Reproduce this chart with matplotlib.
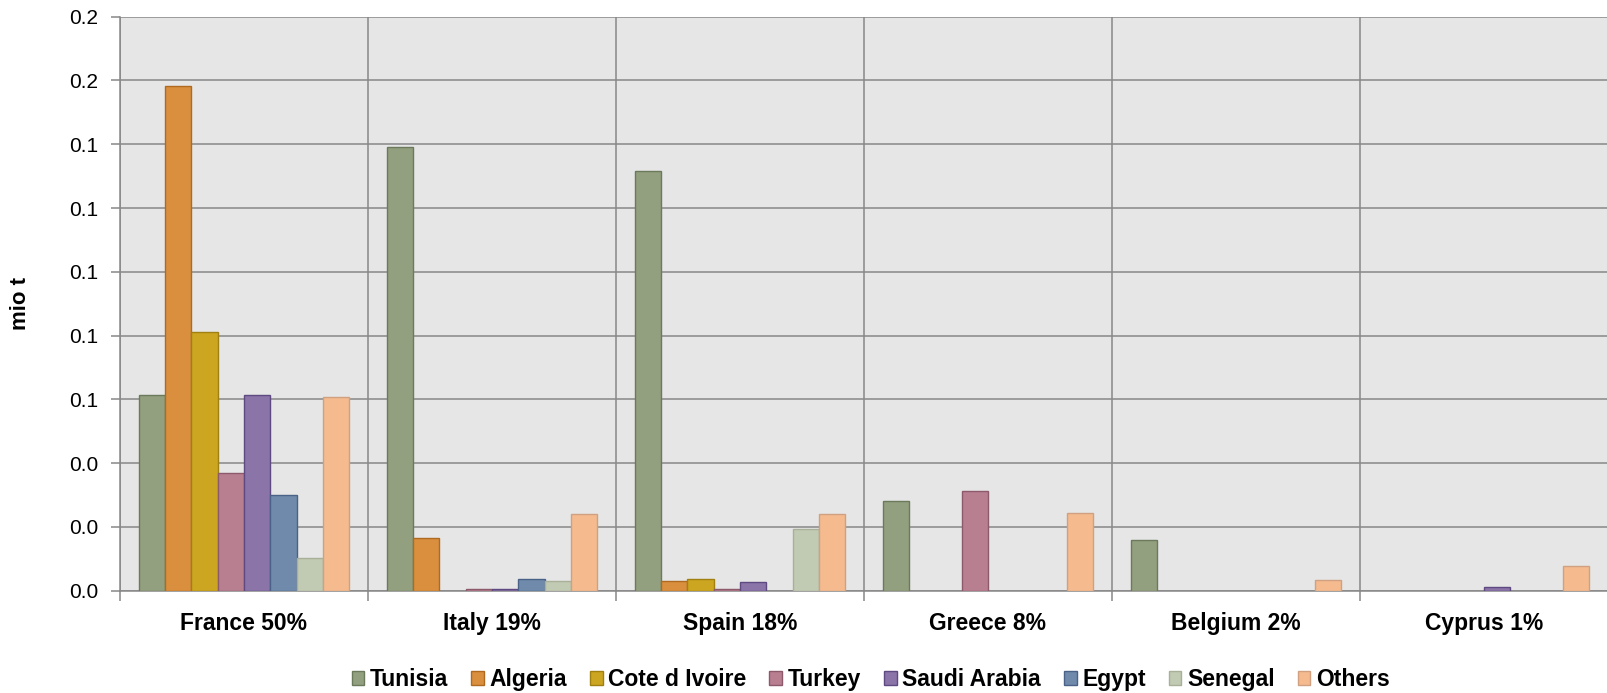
import numpy as np
import matplotlib
matplotlib.use('Agg')
import matplotlib.pyplot as plt

countries = ['France 50%', 'Italy 19%', 'Spain 18%', 'Greece 8%', 'Belgium 2%', 'Cyprus 1%']
origins = ['Tunisia', 'Algeria', 'Cote d Ivoire', 'Turkey', 'Saudi Arabia', 'Egypt', 'Senegal', 'Others']

# mio t (one list per origin, in country order)
tunisia = [0.0615, 0.1392, 0.1315, 0.0280, 0.0160, 0.0]
algeria = [0.1584, 0.0164, 0.0031, 0.0, 0.0, 0.0]
cote_d_ivoire = [0.0812, 0.0, 0.0038, 0.0, 0.0, 0.0]
turkey = [0.0368, 0.0005, 0.0005, 0.0314, 0.0, 0.0]
saudi_arabia = [0.0615, 0.0005, 0.0026, 0.0, 0.0, 0.0012]
egypt = [0.0301, 0.0038, 0.0, 0.0, 0.0, 0.0]
senegal = [0.0103, 0.0031, 0.0193, 0.0, 0.0, 0.0]
others = [0.0608, 0.0241, 0.0241, 0.0243, 0.0033, 0.0077]

series = [tunisia, algeria, cote_d_ivoire, turkey, saudi_arabia, egypt, senegal, others]
fills = ['#93a07f', '#d98f3e', '#cca621', '#b87f91', '#8a74a8', '#708aac', '#c1cab3', '#f5bb8f']
edges = ['#6a7a5a', '#b06a20', '#a08010', '#8c5a6a', '#5e4a80', '#4a6288', '#a8b098', '#d0a080']

fig = plt.figure(figsize=(16.08, 6.93), dpi=100)
ax = fig.add_axes([0.0746, 0.1476, 0.9254, 0.8283])
ax.set_facecolor('#e6e6e6')

x = np.arange(len(countries))
w = 0.85 / len(series)
for i, vals in enumerate(series):
    v = np.array(vals)
    v = np.where(v > 0, v, np.nan)  # empty cells: no bar at all
    ax.bar(x - 0.425 + w * (i + 0.5), v, w, color=fills[i], edgecolor=edges[i],
           linewidth=1.0, label=origins[i], zorder=3)

ax.set_xlim(-0.5, len(countries) - 0.5)
ax.set_ylim(0, 0.18)
yt = np.arange(0, 0.181, 0.02)
ax.set_yticks(yt)
ax.set_yticklabels(['%.1f' % v for v in yt], fontsize=15, family='Liberation Sans')

ax.set_xticks(x)
ax.set_xticklabels(countries, fontsize=16.5, fontweight='bold', family='Liberation Sans')
ax.set_xticks(np.arange(-0.5, len(countries), 1), minor=True)
ax.tick_params(axis='x', which='major', length=0, pad=15)
ax.tick_params(axis='x', which='minor', length=7, width=1.1, color='#878787')
ax.tick_params(axis='y', length=6.5, width=1.1, color='#878787', pad=9)

ax.grid(axis='y', which='major', color='#878787', linewidth=1.1, zorder=1)
ax.grid(axis='x', which='minor', color='#878787', linewidth=1.1, zorder=1)
ax.set_axisbelow(True)
for s in ['top', 'right']:
    ax.spines[s].set_visible(False)
for s in ['left', 'bottom']:
    ax.spines[s].set_color('#878787')
    ax.spines[s].set_linewidth(1.1)

fig.text(0.0128, 0.5619, 'mio t', rotation=90, ha='center', va='center',
         fontsize=16, fontweight='bold', family='Liberation Sans')

fig.legend(loc='center', bbox_to_anchor=(0.5415, 0.0195), ncol=8, frameon=False,
           prop={'family': 'Liberation Sans', 'weight': 'bold', 'size': 16.5},
           handlelength=0.55, handleheight=0.55, handletextpad=0.25, columnspacing=1.0,
           borderpad=0)

fig.savefig('out.png', dpi=100)
